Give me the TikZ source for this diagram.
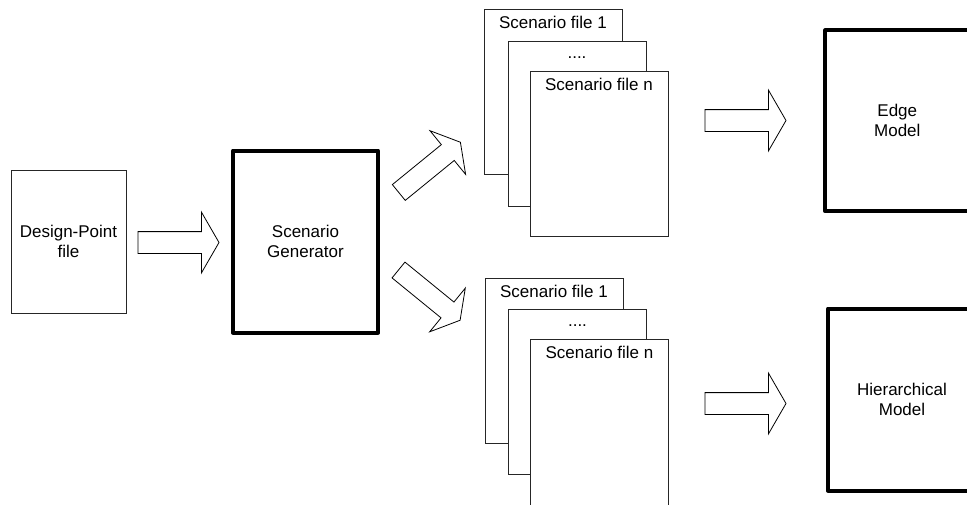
\documentclass[tikz,border=0pt]{standalone}
\usepackage{fontspec}
\setmainfont{Liberation Sans}
\usetikzlibrary{shapes.arrows}

\begin{document}
\begin{tikzpicture}[x=1pt, y=-1pt,
    every node/.style={font=\fontsize{17}{20}\selectfont, inner sep=0pt, outer sep=0pt},
    thinbox/.style={draw=black!85, line width=0.9pt, fill=white, align=center},
    thickbox/.style={draw, line width=4pt, line join=round, fill=white, align=center},
    filebox/.style={draw=black!85, line width=0.9pt, fill=white, minimum width=138pt, minimum height=165pt},
    bigarrow/.style={single arrow, draw, line width=0.8pt, anchor=tail, inner xsep=0pt, inner ysep=10.5pt,
        minimum height=81pt, single arrow head extend=19.5pt, single arrow tip angle=120}]
            \useasboundingbox (0,0) rectangle (967,504);
            \clip (0,0) rectangle (967,504);

            % Input file and generator
            \node[thinbox, minimum width=115pt, minimum height=143pt] (dpfile) at (68.5,241.5) {Design-Point\\file};
            \node[thickbox, minimum width=145pt, minimum height=182pt] (gen) at (305.5,241.5) {Scenario\\Generator};

            % Block arrows
            \node[bigarrow] (arr1) at (138,242.5) {};
            \node[bigarrow, rotate=39.2, minimum height=79.5pt, inner ysep=9.8pt, single arrow head extend=18pt] (arr2) at (398.8,192.5) {};
            \node[bigarrow, rotate=-39.2, minimum height=79.5pt, inner ysep=9.8pt, single arrow head extend=18pt] (arr3) at (398.5,270) {};
            \node[bigarrow] (arr4) at (705,120.5) {};
            \node[bigarrow] (arr5) at (705,403.5) {};

            % Upper scenario files
            \node[filebox] (up1) at (553,92) {};
            \node[filebox] (up2) at (577,123.5) {};
            \node[filebox] (up3) at (599,154) {};
            \node[anchor=base] (up1txt) at ([yshift=-19pt]up1.north) {Scenario file 1};
            \node[anchor=base] (up2txt) at ([yshift=-17pt]up2.north) {....};
            \node[anchor=base] (up3txt) at ([yshift=-19pt]up3.north) {Scenario file n};

            % Lower scenario files
            \node[filebox] (lo1) at (554,361) {};
            \node[filebox] (lo2) at (577.5,391.5) {};
            \node[filebox, minimum height=168pt] (lo3) at (599.5,423.5) {};
            \node[anchor=base] (lo1txt) at ([yshift=-19pt]lo1.north) {Scenario file 1};
            \node[anchor=base] (lo2txt) at ([yshift=-17pt]lo2.north) {....};
            \node[anchor=base] (lo3txt) at ([yshift=-19pt]lo3.north) {Scenario file n};

            % Models
            \node[thickbox, minimum width=144pt, minimum height=181pt] (edgemodel) at (897.3,120.7) {Edge\\Model};
            \node[thickbox, minimum width=148pt, minimum height=182pt] (hiermodel) at (902,399.5) {Hierarchical\\Model};
        \end{tikzpicture}
\end{document}
